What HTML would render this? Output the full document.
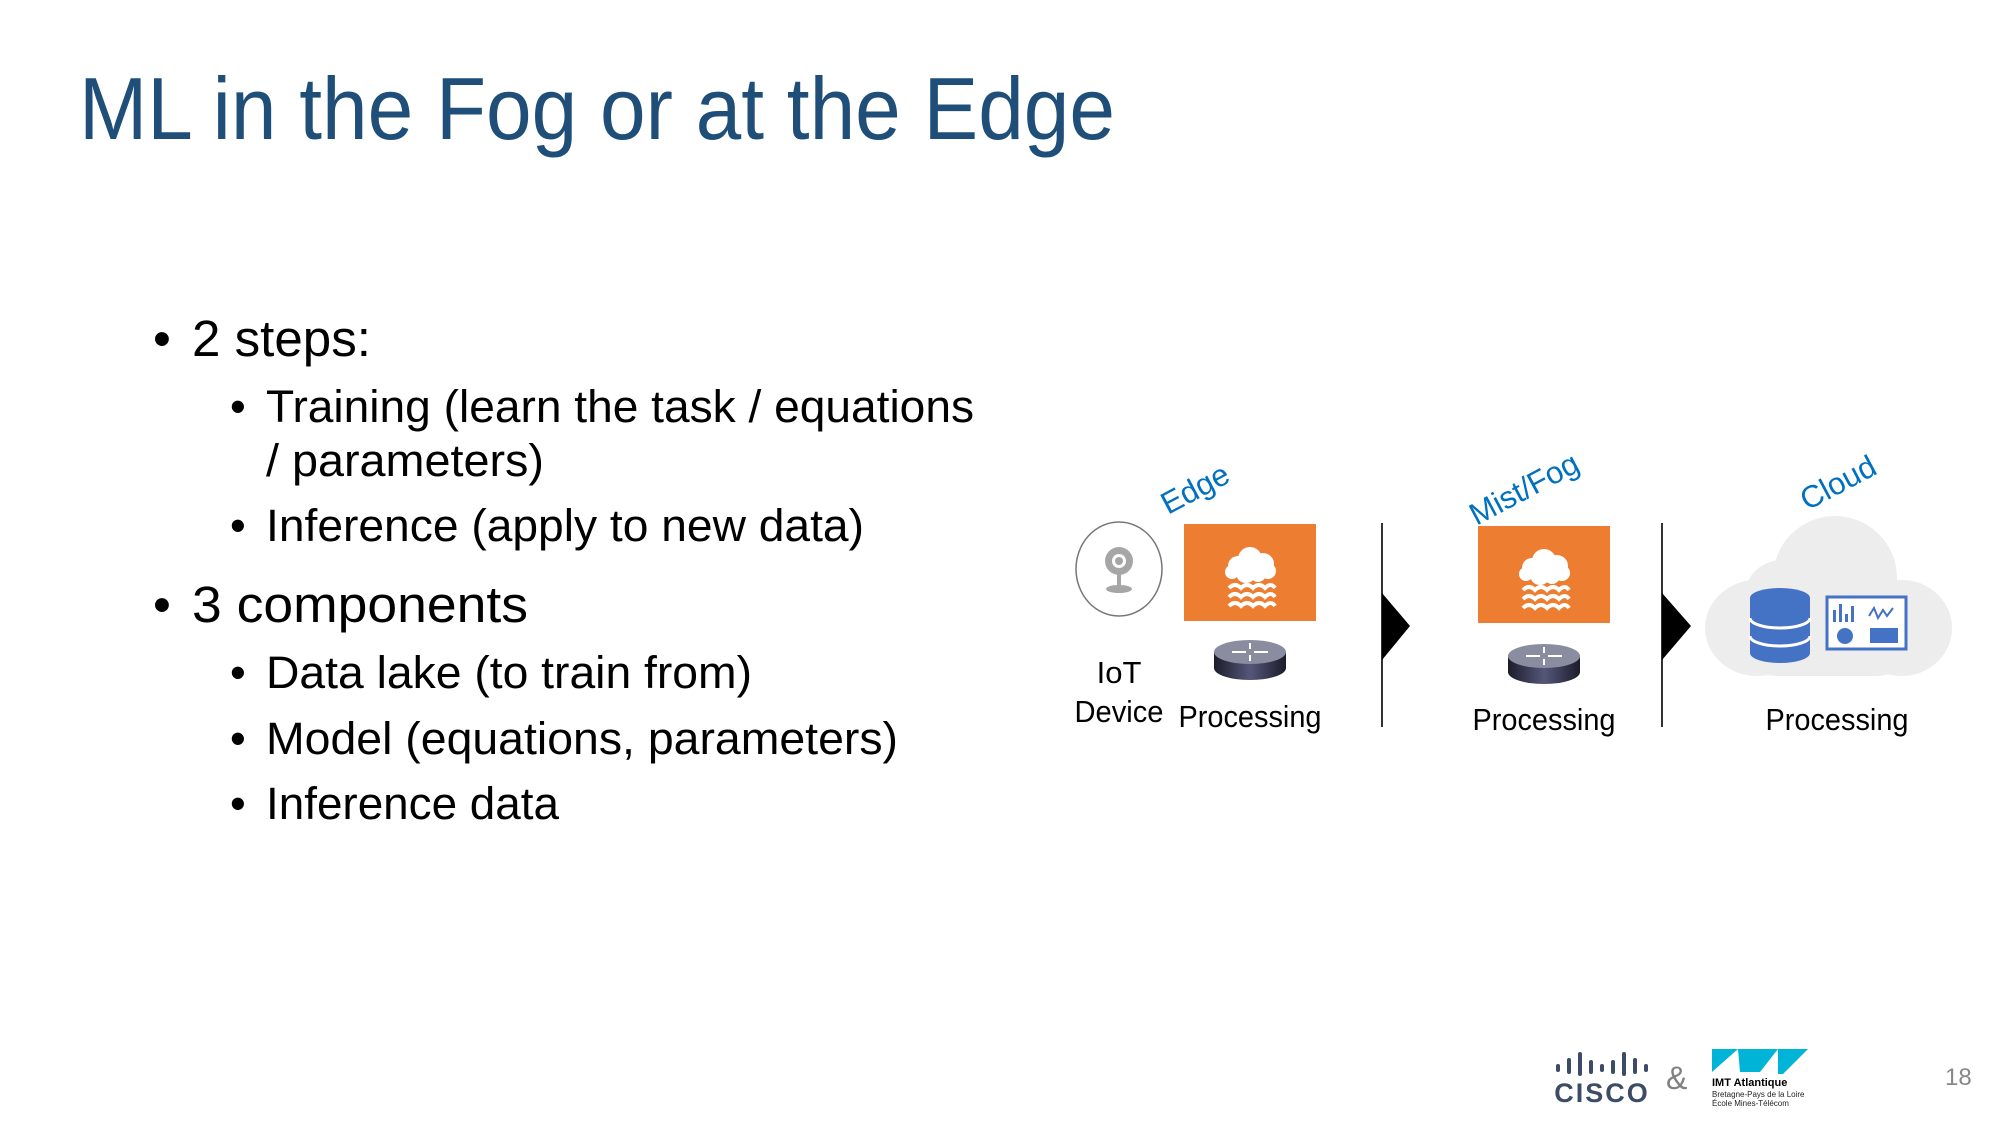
<!DOCTYPE html>
<html><head><meta charset="utf-8"><style>
html,body{margin:0;padding:0;background:#fff;}
svg{display:block;}
text{font-family:"Liberation Sans",sans-serif;}
</style></head><body>
<svg width="2000" height="1125" viewBox="0 0 2000 1125" xmlns="http://www.w3.org/2000/svg">
<defs>
<g id="fog">
  <rect x="0" y="0" width="132" height="97" fill="#ED7D31"/>
  <g fill="#fff">
    <circle cx="54" cy="42" r="10"/><circle cx="66" cy="35" r="12"/><circle cx="79" cy="40" r="11"/><circle cx="84" cy="47" r="8"/><circle cx="62" cy="49" r="10"/><circle cx="48" cy="48" r="7"/><circle cx="74" cy="50" r="8"/>
  </g>
  <g fill="none" stroke="#fff" stroke-width="4">
    <path d="M45 64 q6 -6 12 0 q6 -6 12 0 q6 -6 12 0 q6 -6 10 0"/>
    <path d="M45 73 q6 -6 12 0 q6 -6 12 0 q6 -6 12 0 q6 -6 10 0"/>
    <path d="M45 82 q6 -6 12 0 q6 -6 12 0 q6 -6 12 0 q6 -6 10 0"/>
  </g>
</g>
<linearGradient id="rg" x1="0" x2="1"><stop offset="0" stop-color="#1c1c2a"/><stop offset="0.5" stop-color="#55577a"/><stop offset="1" stop-color="#1c1c2a"/></linearGradient>
<g id="router">
  <path d="M0 14 v16 a36 12 0 0 0 72 0 v-16 z" fill="url(#rg)"/>
  <ellipse cx="36" cy="14" rx="36" ry="12" fill="#8a8da0"/>
  <g stroke="#fff" stroke-width="2" fill="none"><path d="M18 14h14M54 14h-14M36 5v6M36 23v-6"/></g>
</g>
</defs>

<text x="79" y="139" font-size="88" fill="#1F4E79" textLength="1036" lengthAdjust="spacingAndGlyphs">ML in the Fog or at the Edge</text>

<g fill="#000">
<text x="153" y="356" font-size="51">•</text>
<text x="192" y="356" font-size="51" textLength="179" lengthAdjust="spacingAndGlyphs">2 steps:</text>
<text x="230" y="422" font-size="45">•</text>
<text x="266" y="422" font-size="45" textLength="708" lengthAdjust="spacingAndGlyphs">Training (learn the task / equations</text>
<text x="266" y="476" font-size="45" textLength="278" lengthAdjust="spacingAndGlyphs">/ parameters)</text>
<text x="230" y="541" font-size="45">•</text>
<text x="266" y="541" font-size="45" textLength="598" lengthAdjust="spacingAndGlyphs">Inference (apply to new data)</text>
<text x="153" y="622" font-size="51">•</text>
<text x="192" y="622" font-size="51" textLength="336" lengthAdjust="spacingAndGlyphs">3 components</text>
<text x="230" y="688" font-size="45">•</text>
<text x="266" y="688" font-size="45" textLength="486" lengthAdjust="spacingAndGlyphs">Data lake (to train from)</text>
<text x="230" y="754" font-size="45">•</text>
<text x="266" y="754" font-size="45" textLength="632" lengthAdjust="spacingAndGlyphs">Model (equations, parameters)</text>
<text x="230" y="819" font-size="45">•</text>
<text x="266" y="819" font-size="45" textLength="293" lengthAdjust="spacingAndGlyphs">Inference data</text>
</g>

<g transform="translate(-3,-2)">
<!-- IoT device -->
<ellipse cx="1122" cy="571" rx="43" ry="47" fill="#fff" stroke="#777" stroke-width="1.5"/>
<circle cx="1122" cy="563" r="14" fill="#a6a6a6"/><circle cx="1122" cy="563" r="7" fill="#fff"/><circle cx="1122" cy="563" r="4" fill="#a6a6a6"/>
<rect x="1120" y="576" width="4" height="14" fill="#a6a6a6"/><ellipse cx="1122" cy="591" rx="13" ry="4" fill="#a6a6a6"/>

<use href="#fog" x="1187" y="526"/>
<use href="#router" x="1217" y="640"/>
<use href="#fog" x="1481" y="528"/>
<use href="#router" x="1511" y="644"/>

<g font-size="31" fill="#000" text-anchor="middle">
<text x="1122" y="685">IoT</text>
<text x="1122" y="724" textLength="89" lengthAdjust="spacingAndGlyphs">Device</text>
<text x="1253" y="729" textLength="143" lengthAdjust="spacingAndGlyphs">Processing</text>
<text x="1547" y="732" textLength="143" lengthAdjust="spacingAndGlyphs">Processing</text>
<text x="1840" y="732" textLength="143" lengthAdjust="spacingAndGlyphs">Processing</text>
</g>

<line x1="1385" y1="525" x2="1385" y2="729" stroke="#333" stroke-width="2"/>
<polygon points="1385,595 1413,628 1385,662" fill="#000"/>
<line x1="1665" y1="525" x2="1665" y2="729" stroke="#333" stroke-width="2"/>
<polygon points="1665,595 1694,628 1665,662" fill="#000"/>

<!-- cloud -->
<g fill="#EDEDED">
<circle cx="1838" cy="580" r="62"/><circle cx="1785" cy="600" r="38"/><ellipse cx="1760" cy="630" rx="52" ry="48"/><ellipse cx="1905" cy="630" rx="50" ry="48"/>
<rect x="1740" y="600" width="180" height="78" rx="40"/>
</g>
<g fill="#4472C4">
<rect x="1753" y="600" width="60" height="55"/>
<ellipse cx="1783" cy="600" rx="30" ry="10"/><ellipse cx="1783" cy="655" rx="30" ry="10"/>
</g>
<g stroke="#fff" stroke-width="3" fill="none"><path d="M1753 620 a30 10 0 0 0 60 0"/><path d="M1753 638 a30 10 0 0 0 60 0"/></g>
<rect x="1830" y="599" width="79" height="52" fill="#fff" stroke="#4472C4" stroke-width="3"/>
<g fill="#4472C4"><rect x="1836" y="612" width="3" height="12"/><rect x="1842" y="606" width="3" height="18"/><rect x="1848" y="616" width="3" height="8"/><rect x="1854" y="608" width="3" height="16"/>
<circle cx="1848" cy="638" r="8"/><rect x="1873" y="630" width="28" height="15"/></g>
<path d="M1872 618 l5 -8 l4 10 l5 -8 l4 6 l6 -8" stroke="#4472C4" stroke-width="2" fill="none"/>

<g font-size="31" fill="#0070C0" text-anchor="middle">
<text transform="translate(1203,500) rotate(-28)">Edge</text>
<text transform="translate(1532,500) rotate(-28)">Mist/Fog</text>
<text transform="translate(1846,494) rotate(-28)">Cloud</text>
</g>
</g>

<!-- footer -->
<g fill="#3c4c66">
<rect x="1556" y="1064" width="4" height="8" rx="2"/><rect x="1567" y="1058" width="4" height="16" rx="2"/><rect x="1578" y="1052" width="4" height="24" rx="2"/><rect x="1589" y="1060" width="4" height="14" rx="2"/><rect x="1600" y="1064" width="4" height="8" rx="2"/><rect x="1611" y="1060" width="4" height="14" rx="2"/><rect x="1622" y="1052" width="4" height="24" rx="2"/><rect x="1633" y="1058" width="4" height="16" rx="2"/><rect x="1644" y="1064" width="4" height="8" rx="2"/>
<text x="1602" y="1102" font-size="27" font-weight="bold" text-anchor="middle" letter-spacing="2">CISCO</text>
</g>
<text x="1666" y="1089" font-size="32" fill="#808080">&amp;</text>
<g fill="#00B4D8">
<polygon points="1712,1049 1738,1049 1712,1072"/>
<polygon points="1738,1049 1760,1049 1760,1072 1740,1072"/>
<polygon points="1760,1072 1760,1049 1778,1049"/>
<polygon points="1778,1049 1808,1049 1783,1074 1778,1074"/>
</g>
<text x="1712" y="1086" font-size="11" font-weight="bold" fill="#000">IMT Atlantique</text>
<text x="1712" y="1097" font-size="8" fill="#222">Bretagne-Pays de la Loire</text>
<text x="1712" y="1106" font-size="8" fill="#222">École Mines-Télécom</text>
<text x="1945" y="1085" font-size="24" fill="#888">18</text>
</svg>
</body></html>
